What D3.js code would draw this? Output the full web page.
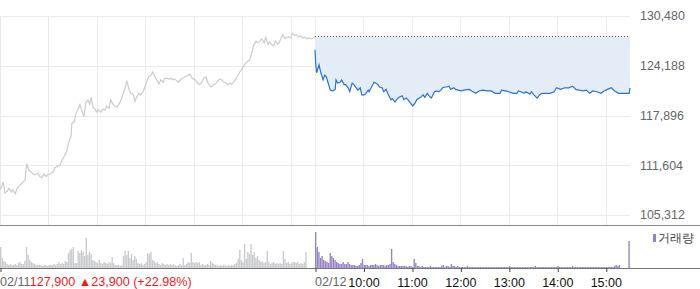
<!DOCTYPE html>
<html><head><meta charset="utf-8">
<script src="https://cdn.jsdelivr.net/npm/d3@7"></script>
<style>
body{margin:0;background:#fff}
svg{display:block;font-family:"Liberation Sans",Arial,sans-serif}
</style>
</head><body><svg id="c" width="700" height="289"></svg>
<script>
// ---------- data ----------
const prevClose = 127900;
const prevDateLabel = "02/11";
const todayDateLabel = "02/12";
const summaryText = "127,900 \u25B223,900 (+22.98%)";
const yTicks = [105312, 111604, 117896, 124188, 130480];
const hourLabels = ["10:00", "11:00", "12:00", "13:00", "14:00", "15:00"];
const hourMinutes = [60, 120, 180, 240, 300, 360];   // minutes after 09:00
const legendLabel = "거래량";

// previous day (02/11) minute-after-09:00 and price
const prevTimes = [0,2,4,6,9,11,14,16,19,21,24,26,28,31,33,36,38,41,43,47,49,52,54,57,59,62,66,68,72,74,77,80,83,85,88,89,92,94,96,99,101,104,106,109,111,113,115,118,120,122,125,127,130,132,135,137,140,142,145,147,150,152,155,157,160,162,165,167,169,172,174,177,179,182,184,187,189,192,194,197,199,202,204,207,209,212,214,216,219,221,224,226,229,233,235,238,240,242,245,247,250,252,255,257,260,262,265,267,270,272,275,277,280,282,285,287,289,292,294,297,299,302,304,307,309,312,314,317,319,322,324,327,329,332,334,336,339,341,344,346,350,353,355,357,360,362,365,367,370,372,375,377,380,382,385,387,390];
const prevPrices = [108500,108900,109500,108100,108300,108700,108200,108500,108000,108700,109000,109200,109400,109700,111800,110900,110800,110500,110400,110600,110200,110000,110500,110200,110400,110500,110800,111300,111500,111600,112300,112800,113500,114500,115300,116900,117100,118100,118600,119300,118600,117700,119500,119900,119300,120200,119000,118600,118300,118600,118300,118700,118600,119100,118800,119900,119300,119100,119000,119300,119900,120500,121400,122300,121100,120700,120600,119700,120200,120700,120500,120900,121400,122300,122800,123000,123400,122800,122400,121900,122400,122100,122600,122600,122500,122600,122400,122500,122300,122100,122500,122600,122800,123000,123100,122600,122500,122400,121900,121800,122100,122600,122800,122100,121600,121500,121800,121900,122300,122500,122400,122100,122000,121800,122000,121800,122100,122500,122900,123400,123700,124200,124500,124800,124900,125900,126800,127300,127100,127300,127600,127100,127800,126900,127200,126900,126700,127300,126900,127200,128100,127600,127800,127800,127700,128300,128000,128100,127800,128000,127700,127800,127600,127700,127600,127600,127900];

// today (02/12)
const todayTimes = [0,1,2,5,7,10,12,14,16,19,22,25,26,28,31,33,36,38,41,43,46,48,51,53,56,58,61,63,66,67,73,75,78,80,83,85,88,90,94,96,99,101,104,108,110,113,115,118,121,124,126,129,131,134,136,139,141,144,146,148,151,153,156,158,161,163,166,168,172,174,177,181,184,191,194,199,203,208,213,218,223,229,231,236,240,245,250,252,255,259,261,266,268,271,275,278,281,286,291,296,299,304,309,314,319,323,327,332,336,340,344,349,354,358,362,367,371,376,382,389,390];
const todayPrices = [126200,124300,123300,124300,123400,122400,123000,122800,122100,121100,121000,121200,122400,122000,122100,122400,121800,121800,121400,120900,122000,121800,121400,121100,121400,120500,120500,120700,121100,120900,122100,122000,121800,121500,121400,120900,121200,120700,119900,120000,119600,119900,120200,120400,119900,120100,119900,119500,119100,119500,119900,120100,120200,120500,120200,120700,120400,120100,120500,120900,121000,120900,121100,121400,121500,121500,121600,121200,121400,121200,121100,121000,121100,121200,121000,120700,121000,121100,121000,121000,120700,120700,121100,121000,120900,120700,120700,121000,120900,120700,120900,120600,120900,120500,120100,120500,120700,120700,120700,120900,121400,121200,121400,121400,121600,121200,121100,121000,121100,120700,121000,120900,120700,121000,121200,121400,121000,120700,120700,120700,121400];

// volume, 2-minute buckets (relative units)
const prevVolume = [21,10,7,6,4,3,4,3,3,4, 3,5,6,4,4,7,21,13,8,6, 5,4,3,3,3,3,2,3,3,2, 3,3,3,4,3,4,6,4,5,4, 7,6,15,18,19,21,5,5,17,15, 18,16,12,30,13,16,14,8,7,6, 5,8,5,4,6,5,4,6,5,11, 5,3,3,3,2,3,12,17,13,17, 10,14,8,12,9,5,4,5,3,4, 6,15,14,16,8,7,5,6,4,3, 5,4,3,4,3,4,3,4,3,2, 3,4,3,10,3,4,6,5,15,6, 5,6,5,6,3,4,3,3,4,3, 7,5,4,3,3,2,3,2,3,3, 2,3,2,3,3,4,5,9,18,8, 6,24,9,16,14,24,13,16,10,12, 8,6,7,5,6,17,6,4,5,6, 4,5,4,5,4,17,9,5,6,4, 5,6,6,5,6,4,5,4,6,16, 0,0,0,0,0];
const todayVolume = [36,21,16,10,12,8,7,6,5,15, 12,10,8,6,5,4,4,6,4,4, 6,4,3,3,3,2,2,3,5,9, 3,3,3,2,3,3,3,4,3,2, 3,3,3,2,3,3,4,19,6,4, 3,2,2,2,2,2,2,1,2,2, 1,9,5,2,2,1,2,1,1,1, 1,2,1,1,1,1,1,1,2,3, 1,2,2,1,4,2,2,1,2,1, 1,1,1,1,2,1,1,1,1,1, 1,1,1,1,1,1,1,1,1,1, 1,1,1,1,1,1,1,1,1,1, 2,1,1,1,1,1,1,1,1,1, 1,1,1,1,1,1,2,1,1,1, 1,1,1,1,1,1,1,1,1,1, 2,1,1,1,1,1,1,1,1,2, 1,1,1,1,1,1,1,1,1,1, 1,1,1,1,1,1,1,1,1,1, 1,1,1,1,1,2,3,2,3,0, 0,0,0,0,27];

// ---------- chart ----------
const svg = d3.select("#c");
const x = d3.scaleLinear().domain([0, 780]).range([0, 630]);
const y = d3.scaleLinear().domain([105312, 130480]).range([215, 16]);
const yv = d3.scaleLinear().domain([0, 40]).range([268, 228]);
const snap = v => Math.round(v) + 0.5;

// grid
const g = svg.append("g");
const vLines = [0].concat(hourMinutes, [390], hourMinutes.map(m => m + 390));
g.selectAll("line.v").data(vLines).join("line")
  .attr("x1", d => snap(x(d))).attr("x2", d => snap(x(d)))
  .attr("y1", 16).attr("y2", 226)
  .attr("stroke", "#ebebeb");
g.selectAll("line.h").data(yTicks).join("line")
  .attr("x1", 0).attr("x2", 630)
  .attr("y1", d => snap(y(d))).attr("y2", d => snap(y(d)))
  .attr("stroke", "#ebebeb");

// today area vs previous close
const today = d3.zip(todayTimes, todayPrices);
const prev = d3.zip(prevTimes, prevPrices);
svg.append("path").datum(today)
  .attr("d", d3.area().x(d => x(d[0] + 390)).y0(y(prevClose)).y1(d => y(d[1])))
  .attr("fill", "#e4ecf8");
svg.append("line")
  .attr("x1", x(390)).attr("x2", x(780))
  .attr("y1", snap(y(prevClose))).attr("y2", snap(y(prevClose)))
  .attr("stroke", "#555").attr("stroke-dasharray", "1,2");

svg.append("path").datum(prev)
  .attr("d", d3.line().x(d => x(d[0])).y(d => y(d[1])))
  .attr("fill", "none").attr("stroke", "#c9cbcf").attr("stroke-width", 1.2);
svg.append("path").datum(today)
  .attr("d", d3.line().x(d => x(d[0] + 390)).y(d => y(d[1])))
  .attr("fill", "none").attr("stroke", "#2a72d8").attr("stroke-width", 1.2);

// y axis labels
const ya = svg.append("g").attr("transform", "translate(630,0)")
  .call(d3.axisRight(y).tickValues(yTicks).tickFormat(d3.format(",")).tickSize(0).tickPadding(10));
ya.select(".domain").remove();
ya.selectAll("text").attr("fill", "#666").style("font-size", "12.4px").style("font-family", "inherit");

// panel separators
svg.append("line").attr("x1", 0).attr("x2", 700).attr("y1", 225.5).attr("y2", 225.5).attr("stroke", "#8a8a8a");

// volume bars
const bw = x(2) - x(0) - 0.25;
svg.append("g").selectAll("rect").data(prevVolume).join("rect")
  .attr("x", (d, i) => x(i * 2)).attr("width", bw)
  .attr("y", d => yv(d)).attr("height", d => yv(0) - yv(d))
  .attr("fill", "#c8cacd");
svg.append("g").selectAll("rect").data(todayVolume).join("rect")
  .attr("x", (d, i) => x(390 + i * 2)).attr("width", bw)
  .attr("y", d => yv(d)).attr("height", d => yv(0) - yv(d))
  .attr("fill", "#9483c6");

// bottom axis
svg.append("line").attr("x1", 0).attr("x2", 700).attr("y1", 268.5).attr("y2", 268.5).attr("stroke", "#777");
const tickMins = [0, 390].concat(hourMinutes.map(m => m + 390));
const xa = svg.append("g").attr("transform", "translate(0,268)")
  .call(d3.axisBottom(x).tickValues(tickMins).tickSize(4).tickPadding(6)
    .tickFormat(d => d >= 450 ? hourLabels[hourMinutes.indexOf(d - 390)] : ""));
xa.select(".domain").remove();
xa.selectAll(".tick line").attr("stroke", "#444").attr("transform", "translate(0.5,0)");
xa.selectAll("text").attr("fill", "#111").style("font-size", "12.5px").style("font-family", "inherit");

const lab = svg.append("text").attr("x", 0).attr("y", 286).style("font-size", "12.6px");
lab.append("tspan").attr("fill", "#666").text(prevDateLabel);
lab.append("tspan").attr("fill", "#f01a1a").text(summaryText);
svg.append("text").attr("x", x(390)).attr("y", 286).attr("fill", "#666").style("font-size", "12.6px").text(todayDateLabel);

// legend
svg.append("rect").attr("x", 653).attr("y", 234).attr("width", 3).attr("height", 8).attr("fill", "#9483c6");
svg.append("text").attr("x", 658).attr("y", 242).attr("fill", "#444").style("font-size", "11.5px").text(legendLabel);
</script>
</body></html>
